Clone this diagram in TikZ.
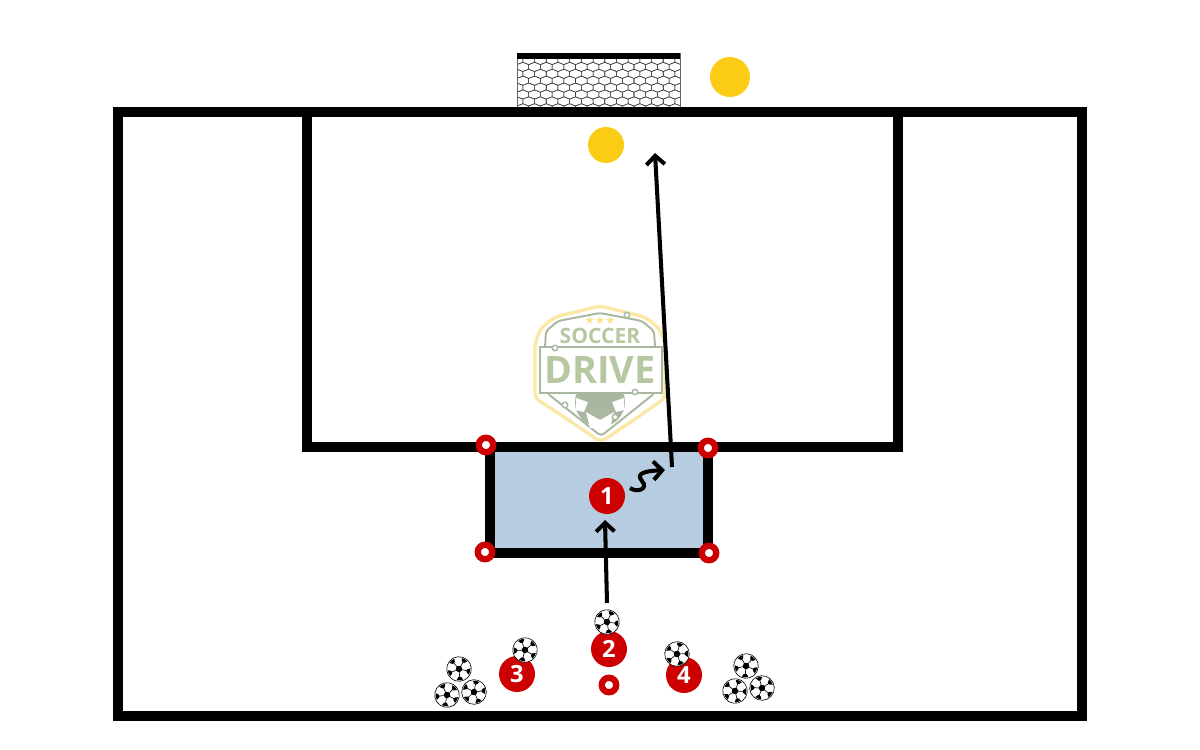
\documentclass[tikz,border=0pt]{standalone}
\usepackage{fontspec}
\setmainfont{Open Sans}
\newfontfamily\symbfont{DejaVu Sans}
\usepackage{xcolor}
\usetikzlibrary{arrows.meta}

\definecolor{cardred}{HTML}{CC0000}
\definecolor{boxblue}{HTML}{B7CCE1}
\definecolor{keeper}{HTML}{FACC15}
\definecolor{logogreen}{HTML}{B6C8A2}
\definecolor{logogray}{HTML}{A9B7A0}
\definecolor{logoyellow}{HTML}{FBE8A6}

\tikzset{
	fieldline/.style={draw=black,line width=5.6pt},
	player/.style={circle,fill=cardred,text=white,minimum size=0.72cm,inner sep=0pt,font=\fontsize{13.5}{13.5}\selectfont\bfseries},
	marker/.style={circle,draw=cardred,fill=white,line width=3.6pt,minimum size=0.29cm,inner sep=0pt},
	goalie/.style={circle,fill=keeper,inner sep=0pt},
	runline/.style={draw=black,line width=2.3pt,-{Straight Barb[length=5pt,width=10.5pt]}},
	logodot/.style={circle,draw=logogray,fill=white,line width=0.8pt,minimum size=0.11cm,inner sep=0pt},
	soccerball/.pic={
		\draw[black,fill=white,line width=0.35pt] (0,0) circle (12.3);
		\fill[black] (90:3.7) -- (162:3.7) -- (234:3.7) -- (306:3.7) -- (18:3.7) -- cycle;
		\foreach \a in {90,162,234,306,18}{
			\draw[black,line width=0.35pt] (\a:3.7) -- (\a:9);
			\fill[black] (\a-17:11.3) arc (\a-17:\a+17:11.3) -- (\a+10:8.2) -- (\a:7.6) -- (\a-10:8.2) -- cycle;
		}
	}
}

\begin{document}
\begin{tikzpicture}[x=0.02cm,y=-0.02cm]
	\useasboundingbox (0,0) rectangle (1200,750);
	\fill[white] (0,0) rectangle (1200,750);

	% net
	\begin{scope}
		\clip (517,53) rectangle (680,107);
		\foreach \j in {0,...,7}{
			\foreach \i in {-1,...,14}{
				\pgfmathsetmacro{\cx}{517+\i*11.7+mod(\j,2)*5.85}
				\pgfmathsetmacro{\cy}{60+\j*6.9}
				\draw[black!75,line width=0.3pt,shift={(\cx,\cy)}] (-5.85,-2.3) -- (0,-4.6) -- (5.85,-2.3) -- (5.85,2.3) -- (0,4.6) -- (-5.85,2.3) -- cycle;
			}
		}
	\end{scope}
	\draw[black!60,line width=0.5pt] (517,53) rectangle (680,107);
	\fill[black] (517,53) rectangle (680,59.5);

	% field
	\fill[boxblue] (490,447) rectangle (708,553);
	\draw[fieldline] (118,112) rectangle (1082,716);
	\draw[fieldline] (307,112) -- (307,447) -- (898,447) -- (898,112);
	\draw[fieldline] (490,447) rectangle (708,553);

	% logo
	\draw[logoyellow,line width=1.9pt,fill=white,rounded corners=3pt] (600,306) -- (645,317) -- (659,328) -- (665,343) -- (665,398) -- (638,417) -- (601,442) -- (564,417) -- (535,398) -- (535,343) -- (541,328) -- (555,317) -- cycle;
	\draw[logogray,line width=1.1pt,rounded corners=2pt] (600,313) -- (642,321) -- (654,331) -- (655,347) -- (655,393) -- (601,436) -- (547,393) -- (545,347) -- (546,331) -- (558,321) -- cycle;
	\begin{scope}
		\clip (570,393) rectangle (630,428);
		\fill[logogray] (600,402) circle (25);
		\fill[white] (586,412) -- (600,420) -- (614,412) -- (610,428) -- (590,428) -- cycle;
		\fill[white] (576,398) -- (588,402) -- (584,412) -- (576,410) -- cycle;
		\fill[white] (624,398) -- (612,402) -- (616,412) -- (624,410) -- cycle;
	\end{scope}
	\draw[logogray,fill=white,line width=1.1pt] (540,347) rectangle (662,393);
	\node[text=logogreen,font=\fontsize{21.5}{20}\selectfont\bfseries,inner sep=0pt] (logodrive) at (600,370) {DRIVE};
	\node[text=logogreen,font=\fontsize{12}{10}\selectfont\bfseries,inner sep=0pt] (logosoccer) at (600,336) {SOCCER};
	\node[text=logoyellow!80!keeper,font=\symbfont\fontsize{6.5}{6.5}\selectfont,inner sep=0pt] (logostars) at (600,320) {★★★};
	\foreach \dx/\dy in {555/348,627/315,635/392,565/405,615/417}{
		\node[logodot] at (\dx,\dy) {};
	}

	% keepers
	\node[goalie,minimum size=0.8cm] (keeperout) at (730,77) {};
	\node[goalie,minimum size=0.72cm] (keeperin) at (606,145) {};

	% markers
	\node[marker] (conea) at (486,445) {};
	\node[marker] (coneb) at (708,448) {};
	\node[marker] (conec) at (485,552) {};
	\node[marker] (coned) at (709,553) {};
	\node[marker] (conee) at (609,685) {};

	% players
	\node[player] (pone) at (607,496) {1};
	\node[player] (ptwo) at (609,649) {2};
	\node[player] (pthree) at (517,674) {3};
	\node[player] (pfour) at (684,675) {4};

	% balls
	\foreach \bx/\by/\br in {607/622/10,525/650/-15,677/654/20,459/669/5,447/695/-10,474/692/25,746/666/-5,735/691/15,762/688/-20}{
		\pic[rotate=\br] at (\bx,\by) {soccerball};
	}

	% runs
	\coordinate (passfrom) at (607,603);
	\coordinate (passto) at (605,520);
	\coordinate (shotfrom) at (672,467);
	\coordinate (shotto) at (655,153);
	\coordinate (dribfrom) at (630,488);
	\coordinate (dribto) at (665,470);
	\draw[runline] (passfrom) -- (passto);
	\draw[runline] (shotfrom) -- (shotto);
	\draw[runline] (dribfrom) .. controls (637,493) and (649,489) .. (642,481) .. controls (635,473) and (646,471) .. (dribto);
\end{tikzpicture}
\end{document}
